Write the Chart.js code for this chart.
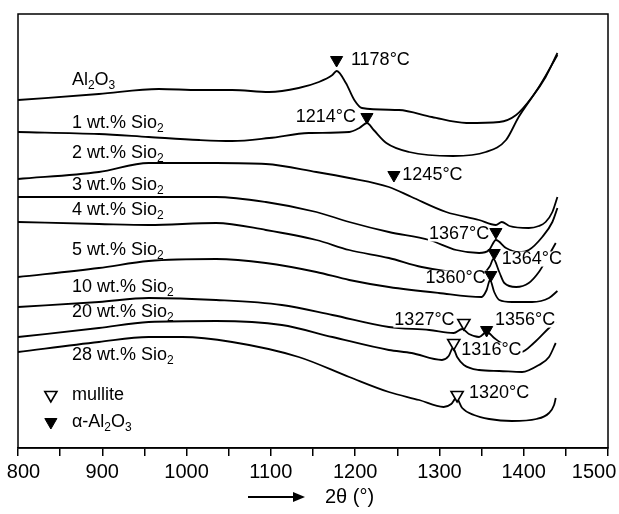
<!DOCTYPE html>
<html><head><meta charset="utf-8">
<script src="https://cdn.jsdelivr.net/npm/chart.js@4.4.1/dist/chart.umd.min.js"></script>
<style>html,body{margin:0;padding:0;background:#fff;overflow:hidden}canvas{display:block}</style>
</head><body>
<canvas id="c" width="619" height="514"></canvas>
<script>
// ---- data (temperature °C, DTA signal in arbitrary units, curves offset) ----
const T_al2o3 = [800,896,967,1015,1054,1098,1133,1157,1173,1178,1189,1199,1208,1252,1291,1332,1371,1391,1410,1426,1440];
const S_al2o3 = [34.8,35.4,35.9,35.8,35.8,35.6,36.0,36.6,37.3,37.7,36.5,34.8,34.0,33.8,33.1,32.5,32.6,33.3,35.1,37.1,39.5];
const T_1wt = [800,896,955,1015,1054,1098,1145,1193,1205,1214,1222,1237,1264,1316,1355,1379,1394,1418,1440];
const S_1wt = [31.6,31.4,31.1,30.8,30.7,31.0,31.5,31.6,32.0,32.5,31.8,30.5,29.6,29.2,29.6,30.8,33.1,36.1,39.3];
const T_2wt = [800,896,955,1035,1094,1154,1193,1240,1267,1308,1347,1367,1374,1383,1406,1418,1426,1434,1440];
const S_2wt = [26.9,27.6,28.5,28.5,28.4,27.6,27.0,26.1,25.1,23.6,22.8,22.3,22.6,22.2,22.0,22.2,22.6,23.6,25.1];
const T_3wt = [800,955,1035,1094,1154,1193,1240,1288,1320,1347,1359,1367,1379,1394,1406,1422,1434,1440];
const S_3wt = [25.1,25.1,25.1,24.6,23.6,22.6,21.6,20.8,19.8,19.5,19.8,20.8,20.0,19.6,19.8,21.1,22.6,24.0];
const T_4wt = [800,896,955,1035,1094,1154,1193,1240,1279,1323,1353,1360,1364,1371,1377,1391,1406,1418,1428,1438];
const S_4wt = [22.6,22.4,22.3,22.5,21.8,20.8,19.8,19.0,18.1,17.6,17.6,18.2,18.9,17.6,16.5,16.1,16.5,17.6,19.0,20.5];
const T_5wt = [800,896,955,1035,1094,1154,1193,1240,1299,1350,1356,1360,1365,1371,1386,1410,1430,1440];
const S_5wt = [17.1,18.0,18.7,18.9,18.5,17.6,16.8,16.1,15.5,15.1,15.8,16.8,15.6,14.8,14.6,14.6,15.0,15.7];
const T_10wt = [800,896,955,1035,1113,1173,1240,1288,1317,1327,1335,1347,1356,1365,1377,1397,1412,1430,1438];
const S_10wt = [14.1,14.6,15.0,14.8,14.3,13.3,12.1,11.8,11.5,11.9,11.4,11.1,11.6,11.0,10.3,9.6,10.5,12.0,12.6];
const T_20wt = [800,896,955,1035,1113,1173,1240,1267,1303,1311,1316,1321,1329,1347,1371,1398,1418,1430,1438];
const S_20wt = [11.1,12.0,12.6,12.7,12.3,11.1,9.8,9.5,8.8,9.2,10.0,9.1,8.3,7.8,7.7,7.6,8.3,9.1,10.5];
const T_28wt = [800,896,955,995,1054,1133,1193,1240,1276,1305,1314,1320,1327,1341,1359,1386,1415,1430,1436,1438];
const S_28wt = [9.6,10.6,11.1,11.1,10.6,9.1,7.1,5.6,4.8,4.1,4.4,5.0,4.0,3.3,2.9,2.7,2.9,3.5,4.3,5.0];

const curveNames = ['Al2O3','1 wt.% Sio2','2 wt.% Sio2','3 wt.% Sio2','4 wt.% Sio2','5 wt.% Sio2','10 wt.% Sio2','20 wt.% Sio2','28 wt.% Sio2'];
const curveT = [T_al2o3,T_1wt,T_2wt,T_3wt,T_4wt,T_5wt,T_10wt,T_20wt,T_28wt];
const curveS = [S_al2o3,S_1wt,S_2wt,S_3wt,S_4wt,S_5wt,S_10wt,S_20wt,S_28wt];
// curve name label anchors (data coords)
const nameLabelT = [864,864,864,864,864,864,864,864,864];
const nameLabelS = [36.8,32.5,29.5,26.3,23.8,19.8,16.1,13.6,9.3];

// peak markers
const alphaT = [1178,1214,1246,1367,1365,1361,1356];
const alphaS = [38.8,33.1,27.3,21.6,19.5,17.3,11.8];
const mulliteT = [1329,1317,1321];
const mulliteS = [12.5,10.5,5.3];
// peak temperature labels
const peakText = ['1178°C','1214°C','1245°C','1367°C','1364°C','1360°C','1327°C','1356°C','1316°C','1320°C'];
const peakLabelT = [1195,1201,1256,1359,1374,1355,1318,1366,1326,1335];
const peakLabelS = [38.8,33.1,27.3,21.4,18.9,17.0,12.8,12.8,9.8,5.5];
const peakAlign = ['left','right','left','right','left','right','right','left','left','left'];

const legendNames = ['mullite','α-Al2O3'];
const legendS = [5.3,2.6];
const xTicks = [800,900,1000,1100,1200,1300,1400,1500];

// ---- chart ----
const FONT = "'Liberation Sans', Arial, sans-serif";
const datasets = [];
datasets.push({label:'α-Al2O3', data: alphaT.map((t,i)=>({x:t,y:alphaS[i]})), showLine:false,
  pointStyle:'triangle', rotation:180, radius:7, hoverRadius:7, backgroundColor:'#000', borderColor:'#000', borderWidth:1, order:0});
datasets.push({label:'mullite', data: mulliteT.map((t,i)=>({x:t,y:mulliteS[i]})), showLine:false,
  pointStyle:'triangle', rotation:180, radius:7, hoverRadius:7, backgroundColor:'#fff', borderColor:'#000', borderWidth:1.6, order:0});
curveNames.forEach((n,k)=>{
  datasets.push({label:n, data: curveT[k].map((t,i)=>({x:t,y:curveS[k][i]})), showLine:true,
    borderColor:'#000', borderWidth:1.8, pointRadius:0, cubicInterpolationMode:'monotone', fill:false, order:1});
});

function drawRich(ctx, text, x, y, size, align, bg){
  // digits directly following a letter are subscripts
  const parts = [];
  for (let i=0;i<text.length;i++){
    const ch = text[i];
    const sub = /[0-9]/.test(ch) && i>0 && /[A-Za-z]/.test(text[i-1]);
    if (parts.length && parts[parts.length-1].sub===sub) parts[parts.length-1].t += ch;
    else parts.push({t:ch, sub});
  }
  const subSize = Math.round(size*0.68);
  let w = 0;
  parts.forEach(p=>{ ctx.font = (p.sub?subSize:size)+'px '+FONT; p.w = ctx.measureText(p.t).width; w += p.w; });
  let x0 = align==='right' ? x - w : (align==='center' ? x - w/2 : x);
  if (bg){ ctx.fillStyle='#fff'; ctx.fillRect(x0-1, y-size*0.42, w+2, size*0.84); }
  ctx.fillStyle = '#000';
  ctx.textBaseline = 'middle';
  ctx.textAlign = 'left';
  parts.forEach(p=>{
    ctx.font = (p.sub?subSize:size)+'px '+FONT;
    ctx.fillText(p.t, x0, p.sub ? y + size*0.33 : y);
    x0 += p.w;
  });
}
function tri(ctx, x, y, r, filled){
  ctx.beginPath();
  ctx.moveTo(x, y + r);
  ctx.lineTo(x - r*0.866, y - r*0.5);
  ctx.lineTo(x + r*0.866, y - r*0.5);
  ctx.closePath();
  ctx.fillStyle = filled ? '#000' : '#fff';
  ctx.fill();
  ctx.lineWidth = filled ? 1 : 1.6; ctx.strokeStyle = '#000'; ctx.stroke();
}

let labelsDrawn = false;
const annot = {
  id:'annot',
  beforeDatasetsDraw(){ labelsDrawn = false; },
  beforeDatasetDraw(chart, args){
    if (labelsDrawn) return;
    if (chart.data.datasets[args.index].order !== 0) return;
    labelsDrawn = true;
    const ctx = chart.ctx, xs = chart.scales.x, ys = chart.scales.y;
    ctx.save();
    peakText.forEach((t,i)=> drawRich(ctx, t, xs.getPixelForValue(peakLabelT[i]), ys.getPixelForValue(peakLabelS[i]), 18, peakAlign[i], true));
    ctx.restore();
  },
  afterDatasetsDraw(chart){
    const ctx = chart.ctx, xs = chart.scales.x, ys = chart.scales.y, a = chart.chartArea;
    ctx.save();
    curveNames.forEach((n,i)=> drawRich(ctx, n, xs.getPixelForValue(nameLabelT[i]), ys.getPixelForValue(nameLabelS[i]), 18, 'left', false));
    // legend
    legendNames.forEach((n,i)=>{
      const y = ys.getPixelForValue(legendS[i]);
      tri(ctx, xs.getPixelForValue(839), y, 7, i===1);
      drawRich(ctx, n, xs.getPixelForValue(864), y, 18, 'left', false);
    });
    // frame
    ctx.strokeStyle='#000'; ctx.lineWidth=1.5;
    ctx.strokeRect(a.left, a.top, a.right-a.left, a.bottom-a.top);
    // axis title with arrow
    const cx = (a.left+a.right)/2, ty = 497;
    ctx.lineWidth = 2;
    ctx.beginPath(); ctx.moveTo(cx-65, ty); ctx.lineTo(cx-12, ty); ctx.stroke();
    ctx.beginPath(); ctx.moveTo(cx-8, ty); ctx.lineTo(cx-20, ty-5); ctx.lineTo(cx-20, ty+5); ctx.closePath();
    ctx.fillStyle='#000'; ctx.fill();
    drawRich(ctx, '2θ (°)', cx+12, ty, 20, 'left', false);
    ctx.restore();
  }
};

new Chart(document.getElementById('c'), {
  type:'scatter',
  data:{datasets},
  options:{
    responsive:false, animation:false, devicePixelRatio:1,
    layout:{padding:{left:18, right:11, top:14, bottom:0}},
    plugins:{legend:{display:false}, tooltip:{enabled:false}},
    scales:{
      x:{type:'linear', min:800, max:1500,
        afterBuildTicks(s){ const t=[]; for(let v=800; v<=1500; v+=50) t.push({value:v}); s.ticks=t; },
        afterFit(s){ s.height = 66; s.paddingLeft = 0; s.paddingRight = 0; },
        ticks:{autoSkip:false, maxRotation:0, padding:4, color:'#000', font:{size:20, family:FONT},
          callback:(v)=> {
            if (!xTicks.includes(v)) return '';
            // keep the end labels inside the canvas, as in the original figure
            if (v === xTicks[0]) return '  ' + v;
            if (v === xTicks[xTicks.length-1]) return v + '     ';
            return String(v);
          }},
        grid:{drawOnChartArea:false, drawTicks:true, tickLength:8, color:'#000', lineWidth:1.5},
        border:{display:true, color:'#000', width:1.5}
      },
      y:{display:false, min:0, max:43.4}
    }
  },
  plugins:[annot]
});
</script>
</body></html>
